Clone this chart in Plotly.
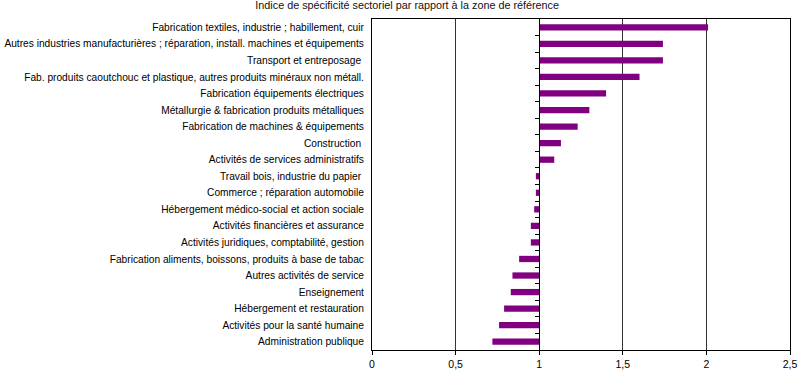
import plotly.graph_objects as go

categories = [
    "Fabrication textiles, industrie ; habillement, cuir",
    "Autres industries manufacturières ; réparation, install. machines et équipements",
    "Transport et entreposage ",
    "Fab. produits caoutchouc et plastique, autres produits minéraux non métall.",
    "Fabrication équipements électriques",
    "Métallurgie & fabrication produits métalliques",
    "Fabrication de machines & équipements",
    "Construction ",
    "Activités de services administratifs",
    "Travail bois, industrie du papier ",
    "Commerce ; réparation automobile",
    "Hébergement médico-social et action sociale",
    "Activités financières et assurance",
    "Activités juridiques, comptabilité, gestion",
    "Fabrication aliments, boissons, produits à base de tabac",
    "Autres activités de service",
    "Enseignement",
    "Hébergement et restauration",
    "Activités pour la santé humaine",
    "Administration publique",
]
values = [2.01, 1.74, 1.74, 1.60, 1.40, 1.30, 1.23, 1.13, 1.09, 0.98,
          0.98, 0.97, 0.95, 0.95, 0.88, 0.84, 0.83, 0.79, 0.76, 0.72]
reference = 1.0
x_ticks = [0, 0.5, 1, 1.5, 2, 2.5]
title = "Indice de spécificité sectoriel par rapport à la zone de référence"

font_family = "Liberation Sans, Arial, sans-serif"

fig = go.Figure()
fig.add_trace(go.Bar(
    y=categories,
    x=[v - reference for v in values],
    base=reference,
    orientation="h",
    width=0.38,
    marker=dict(color="#800080", line=dict(width=0)),
    showlegend=False,
))
# invisible trace to hold the axis drawn at the reference value
fig.add_trace(go.Scatter(
    x=[reference], y=[0], yaxis="y2", mode="none",
    showlegend=False, hoverinfo="skip",
))

n = len(categories)
fig.update_layout(
    width=800, height=382,
    margin=dict(l=372, r=10, t=19, b=32),
    paper_bgcolor="white", plot_bgcolor="white",
    separators=", ",
    font=dict(family=font_family, size=10.2, color="#000"),
    title=dict(text=title, x=0.509, xref="container", xanchor="center",
               y=0.986, yref="container", yanchor="middle",
               font=dict(size=10.8, color="#111")),
    xaxis=dict(
        range=[0, 2.5], tickvals=x_ticks, automargin=False,
        showgrid=True, gridcolor="#333", gridwidth=1,
        showline=True, linecolor="#000", linewidth=1, mirror=True,
        ticks="outside", ticklen=4, tickcolor="#000",
        zeroline=False, tickfont=dict(size=10.5),
    ),
    yaxis=dict(
        categoryorder="array", categoryarray=categories, automargin=False,
        range=[n - 0.5, -0.5],
        showgrid=False, zeroline=False,
        showline=True, linecolor="#000", linewidth=1, mirror=True,
        ticks="outside", ticklen=5, tickcolor="rgba(0,0,0,0)",
        tickfont=dict(size=10.2),
    ),
    yaxis2=dict(
        overlaying="y", anchor="free", position=reference / 2.5,
        range=[n - 0.5, -0.5], automargin=False,
        tickvals=[i + 0.5 for i in range(n - 1)],
        showticklabels=False, showgrid=False, zeroline=False,
        showline=True, linecolor="#000", linewidth=1,
        ticks="outside", ticklen=4, tickcolor="#000", side="left",
    ),
)

fig.write_html(
    "out.html",
    config={"displayModeBar": False},
    post_script="document.body.style.margin='0';document.body.style.overflow='hidden';",
)
